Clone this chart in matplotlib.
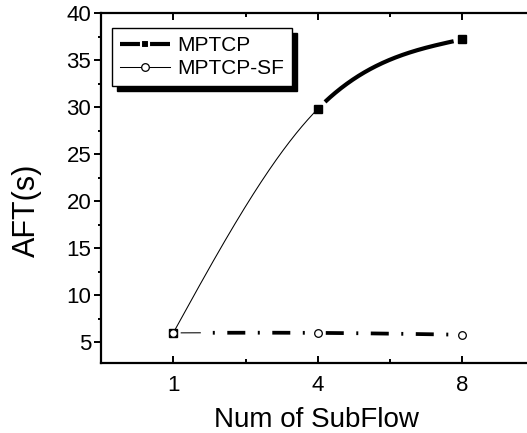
import numpy as np
import matplotlib
matplotlib.use("Agg")
import matplotlib.pyplot as plt
from matplotlib.lines import Line2D
from matplotlib.ticker import MultipleLocator

plt.rcParams['font.family'] = ['Liberation Sans', 'DejaVu Sans']
plt.rcParams['lines.scale_dashes'] = False

# data
subflows = ['1', '4', '8']
mptcp = [6.0, 29.8, 37.2]
mptcp_sf = [6.0, 6.0, 5.8]

PX = 0.72  # points per pixel at dpi 100


def natural_spline(x, y, xs):
    x = np.asarray(x, float)
    y = np.asarray(y, float)
    n = len(x)
    h = np.diff(x)
    A = np.zeros((n, n))
    r = np.zeros(n)
    A[0, 0] = A[-1, -1] = 1
    for i in range(1, n - 1):
        A[i, i - 1] = h[i - 1]
        A[i, i] = 2 * (h[i - 1] + h[i])
        A[i, i + 1] = h[i]
        r[i] = 6 * ((y[i + 1] - y[i]) / h[i] - (y[i] - y[i - 1]) / h[i - 1])
    M = np.linalg.solve(A, r)
    idx = np.clip(np.searchsorted(x, xs) - 1, 0, n - 2)
    x0 = x[idx]
    x1 = x[idx + 1]
    hh = x1 - x0
    a = (x1 - xs) / hh
    b = (xs - x0) / hh
    return a * y[idx] + b * y[idx + 1] + ((a**3 - a) * M[idx] + (b**3 - b) * M[idx + 1]) * hh**2 / 6


pos = np.arange(len(subflows))

fig = plt.figure(figsize=(5.27, 4.33), dpi=100)
ax = fig.add_axes([0.1917, 0.1617, 0.8226, 0.8083])

# MPTCP: thin spline to the second point, thick after it
t1 = np.linspace(0, 1, 200)
ax.plot(t1, natural_spline(pos, mptcp, t1), color='k', lw=0.75, zorder=2)
t2 = np.linspace(1.05, 1.94, 200)
ax.plot(t2, natural_spline(pos, mptcp, t2), color='k', lw=3.0,
        solid_capstyle='butt', zorder=2)

# MPTCP-SF: dash-dot spline, first dash drawn thin
dashes = (18 * PX, 12.5 * PX, 2 * PX, 12.5 * PX)
ta = np.linspace(0.055, 0.187, 30)
ax.plot(ta, natural_spline(pos, mptcp_sf, ta), color='k', lw=0.75, zorder=2)
tb = np.linspace(0.187, 1, 200)
ax.plot(tb, natural_spline(pos, mptcp_sf, tb), color='k', lw=2.7,
        linestyle=(18 * PX, dashes), zorder=2)
tc = np.linspace(1, 2, 200)
ax.plot(tc, natural_spline(pos, mptcp_sf, tc), color='k', lw=2.7,
        linestyle=(37 * PX, dashes), zorder=2)

# markers
ax.plot(pos, mptcp, linestyle='none', marker='s', ms=5.2, mfc='k', mec='k', zorder=3)
ax.plot(pos, mptcp_sf, linestyle='none', marker='o', ms=5.5, mfc='white',
        mec='k', mew=0.9, zorder=4)

ax.set_xlim(-0.5, 2.5)
ax.set_ylim(2.8, 40)
ax.set_xticks(pos)
ax.set_xticklabels(subflows)
ax.xaxis.set_minor_locator(MultipleLocator(0.5))
ax.set_yticks(np.arange(5, 41, 5))
ax.yaxis.set_minor_locator(MultipleLocator(2.5))

for s in ax.spines.values():
    s.set_linewidth(1.6)
ax.spines['right'].set_visible(False)

ax.tick_params(axis='x', which='both', direction='in', top=True, labelsize=16,
               width=1.4, pad=9)
ax.tick_params(axis='x', which='major', length=5)
ax.tick_params(axis='x', which='minor', length=3)
ax.tick_params(axis='y', which='both', direction='out', right=False, labelsize=16,
               width=1.4)
ax.tick_params(axis='y', which='major', length=5, pad=2)
ax.tick_params(axis='y', which='minor', length=2.5)

ax.set_xlabel('Num of SubFlow', fontsize=20)
ax.set_ylabel('AFT(s)', fontsize=22)
ax.xaxis.label.set_va('center')
ax.xaxis.set_label_coords(0.498, -0.162)
ax.yaxis.label.set_va('center')
ax.yaxis.set_label_coords(-0.171, 0.437)

handles = [
    Line2D([], [], color='k', lw=3.0, marker='s', ms=6, mfc='k', mec='white', mew=1.5,
           solid_capstyle='butt'),
    Line2D([], [], color='k', lw=0.75, marker='o', ms=5.5, mfc='white', mec='k', mew=0.9),
]
leg = ax.legend(handles, ['MPTCP', 'MPTCP-SF'], loc='upper left',
                bbox_to_anchor=(0.0254, 0.957), borderaxespad=0, fontsize=15,
                fancybox=False, edgecolor='k', framealpha=1,
                handlelength=2.4, handletextpad=0.35, labelspacing=0.2,
                borderpad=0.38,
                shadow={'facecolor': 'k', 'edgecolor': 'k', 'alpha': 1,
                        'ox': 3.6, 'oy': -3.6})
leg.get_frame().set_linewidth(1.0)

fig.savefig('out.png', dpi=100)
